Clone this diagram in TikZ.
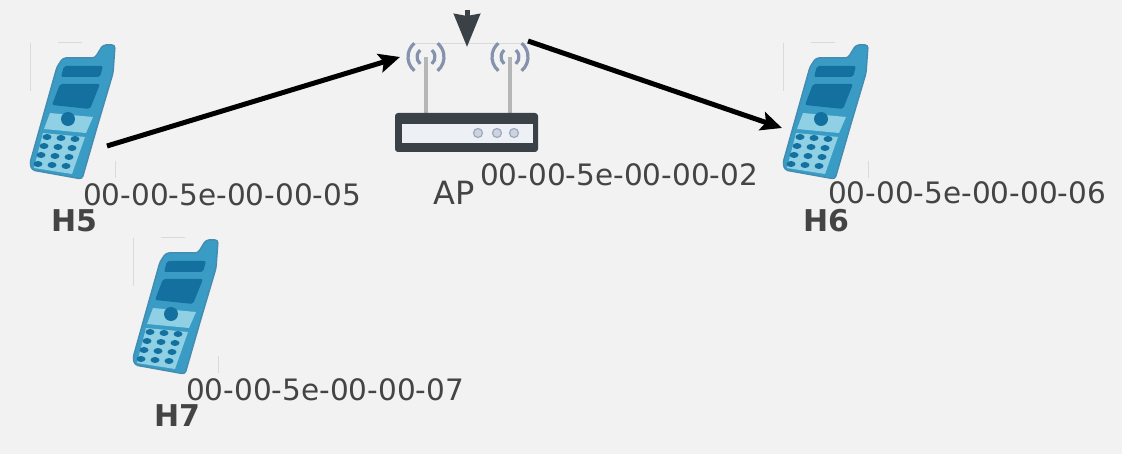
\documentclass[tikz,border=0pt]{standalone}
\usepackage{fontspec}
\setmainfont{DejaVu Sans}
\usepackage{xcolor}
\usetikzlibrary{arrows.meta,positioning}
\definecolor{canvas}{HTML}{F2F2F2}
\definecolor{ink}{HTML}{444444}
\definecolor{phoneBody}{HTML}{3A9CC4}
\definecolor{phoneDk}{HTML}{14709F}
\definecolor{phoneLt}{HTML}{8FD0E4}
\definecolor{apDk}{HTML}{3A4248}
\definecolor{apLt}{HTML}{EDF1F5}
\definecolor{wave}{HTML}{8492AE}
\definecolor{mast}{HTML}{B4B6B8}
\definecolor{ghost}{HTML}{DADADA}
\tikzset{
  macaddr/.style={text=ink, inner sep=0pt, anchor=west, font=\fontsize{29.5}{30}\selectfont},
  hostname/.style={text=ink, inner sep=0pt, font=\bfseries\fontsize{30}{30}\selectfont},
  aplabel/.style={text=ink, inner sep=0pt, font=\fontsize{32}{32}\selectfont},
  link/.style={draw=black, line width=5pt, -{Stealth[length=21pt,width=19pt,inset=4pt]}},
  feed/.style={draw=apDk, line width=5pt, -{Stealth[length=33pt,width=26pt,inset=2pt]}},
  phone/.pic={
    \draw[ghost, line width=1pt] (0,0) -- (0,48) (28,0) -- (52,0) (85,118) -- (85,135);
    \fill[phoneBody, draw=phoneDk!80, line width=1.5pt, rounded corners=3pt]
      (73,2) -- (85,2) -- (83,30) -- (67,84) -- (52,136) -- (2,127) -- (0,120) -- (27,24) -- (33,15) -- (65,15) -- cycle;
    \fill[phoneDk, rounded corners=2pt] (34,23) -- (73,23) -- (70,34) -- (31,34) -- cycle;
    \fill[phoneDk, rounded corners=2pt] (30,41) -- (70,41) -- (60,66) -- (22,62) -- cycle;
    \fill[phoneLt] (20,70) -- (63,74) -- (56,90) -- (14,86) -- cycle;
    \fill[phoneDk] (38,76) circle[radius=7pt];
    \fill[phoneLt] (13,90) -- (55,94) -- (42,131) -- (4,125) -- cycle;
    \foreach \row in {0,1,2,3} {
      \foreach \col in {0,1,2} {
        \fill[phoneDk] (17+\col*14-\row*3,94+\row*9+\col*1) ellipse[x radius=4.5pt,y radius=3pt];
      }
    }
    \coordinate (-tx) at (77,103);
    \coordinate (-rx) at (-1,85);
  },
  ap/.pic={
    \draw[ghost, line width=.6pt] (-2,0) -- (128,0);
    \foreach \ax in {12,96} {
      \draw[mast, line width=3.5pt] (\ax,14) -- (\ax,70);
      \foreach \rr/\ang in {9/50,18/50} {
        \draw[wave, line width=3.2pt] (\ax,14) ++(180-\ang:\rr) arc[start angle=180-\ang,end angle=180+\ang,radius=\rr];
        \draw[wave, line width=3.2pt] (\ax,14) ++(\ang:\rr) arc[start angle=\ang,end angle=-\ang,radius=\rr];
      }
    }
    \fill[apDk, rounded corners=3pt] (-19,70) rectangle (124,109);
    \fill[apLt] (-12,81) rectangle (119,100);
    \foreach \dx in {64,83,100} {
      \draw[wave!80, fill=apLt!70!wave, line width=1.2pt] (\dx,90) circle[radius=4.5pt];
    }
    \coordinate (-rx) at (-14,14);
    \coordinate (-tx) at (114,-2);
    \coordinate (-top) at (53,4);
  },
}
\begin{document}
\begin{tikzpicture}[x=1pt,y=-1pt]
  \fill[canvas] (0,0) rectangle (1122,454);
  \useasboundingbox (0,0) rectangle (1122,454);

  \pic (h5) at (30,43) {phone};
  \pic (h6) at (783,43) {phone};
  \pic (h7) at (133,238) {phone};
  \pic (acc) at (414,43) {ap};

  \node[macaddr] (h5mac) at (83,195) {00-00-5e-00-00-05};
  \node[hostname] (h5name) at (74,221) {H5};
  \node[macaddr] (h6mac) at (828,193) {00-00-5e-00-00-06};
  \node[hostname] (h6name) at (826,221) {H6};
  \node[macaddr] (h7mac) at (186,390) {00-00-5e-00-00-07};
  \node[hostname] (h7name) at (177,416) {H7};
  \node[macaddr] (apmac) at (480,175) {00-00-5e-00-00-02};
  \node[aplabel] (apname) at (454,193) {AP};

  \coordinate (uplink) at (467,10);
  \draw[feed] (uplink) -- (acc-top);
  \draw[link] (h5-tx) -- (acc-rx);
  \draw[link] (acc-tx) -- (h6-rx);
\end{tikzpicture}
\end{document}
